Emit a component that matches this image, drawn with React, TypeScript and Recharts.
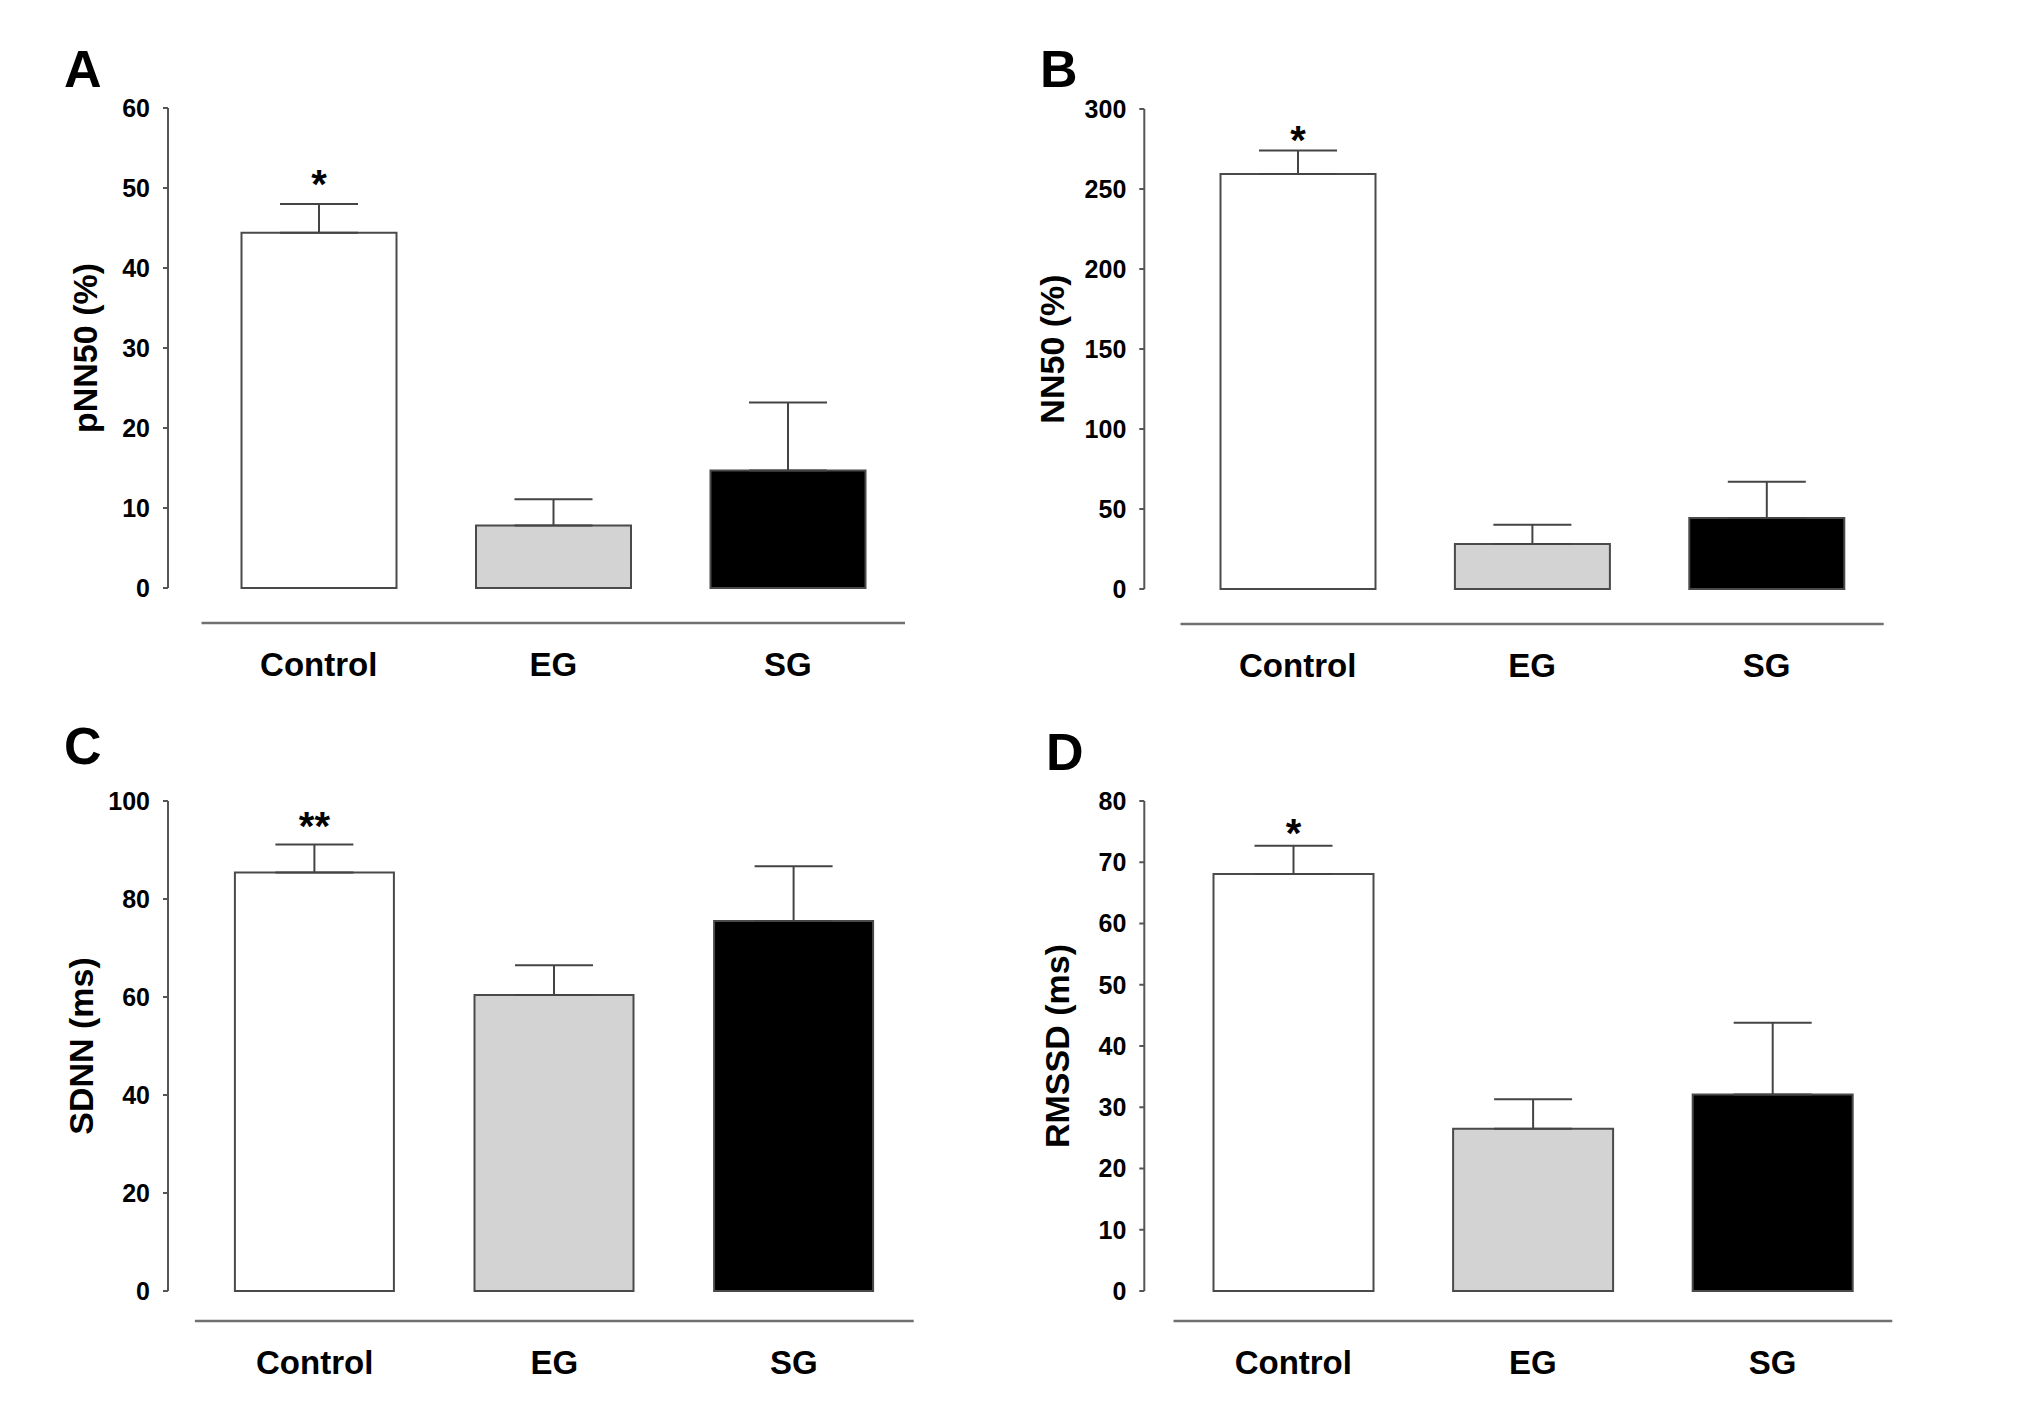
import React from 'react';
import { BarChart, Bar, XAxis, YAxis, ErrorBar, Cell, LabelList } from 'recharts';

const FONT = '"Liberation Sans", Arial, Helvetica, sans-serif';

const groups = ['Control', 'EG', 'SG'];
const groupFills = ['#ffffff', '#d3d3d3', '#000000'];

const pnn50Mean = [44.4, 7.8, 14.7];
const pnn50Sem = [3.6, 3.3, 8.5];
const pnn50Sig = ['*', '', ''];
const pnn50Ticks = [0, 10, 20, 30, 40, 50, 60];

const nn50Mean = [259.4, 28.2, 44.4];
const nn50Sem = [14.6, 11.9, 22.6];
const nn50Sig = ['*', '', ''];
const nn50Ticks = [0, 50, 100, 150, 200, 250, 300];

const sdnnMean = [85.4, 60.4, 75.5];
const sdnnSem = [5.7, 6.1, 11.2];
const sdnnSig = ['**', '', ''];
const sdnnTicks = [0, 20, 40, 60, 80, 100];

const rmssdMean = [68.1, 26.5, 32.1];
const rmssdSem = [4.6, 4.8, 11.7];
const rmssdSig = ['*', '', ''];
const rmssdTicks = [0, 10, 20, 30, 40, 50, 60, 70, 80];

const layoutA = { left: 0, top: 0, width: 1000, height: 700, mTop: 108, mBottom: 7, mLeft: 38, mRight: 95, axisW: 130, padW: 33.5, spacerH: 35, labelDx: -18.4, barSize: 155, letterX: 64, letterY: 50, starGap: 27 };
const layoutB = { left: 1000, top: 0, width: 1040, height: 700, mTop: 109, mBottom: 6, mLeft: 14.3, mRight: 156.3, axisW: 130, padW: 36.2, spacerH: 35, labelDx: -27.3, barSize: 155, letterX: 1040, letterY: 50, starGap: 18 };
const layoutC = { left: 0, top: 700, width: 1000, height: 710, mTop: 101, mBottom: 19, mLeft: 38, mRight: 86.3, axisW: 130, padW: 26.9, spacerH: 30, labelDx: -22.3, barSize: 159, letterX: 64, letterY: 727, starGap: 26 };
const layoutD = { left: 1000, top: 700, width: 1040, height: 710, mTop: 101, mBottom: 19, mLeft: 14.3, mRight: 147.7, axisW: 130, padW: 29.2, spacerH: 30, labelDx: -22.3, barSize: 160, letterX: 1046, letterY: 733, starGap: 20 };

type Layout = typeof layoutA;

function Panel(props: {
  means: number[];
  sems: number[];
  sig: string[];
  ticks: number[];
  title: string;
  letter: string;
  L: Layout;
}) {
  const { means, sems, sig, ticks, title, letter, L } = props;
  const data = groups.map((g, i) => ({ name: g, mean: means[i], err: [0, sems[i]], sig: sig[i] }));
  const maxTick = ticks[ticks.length - 1];

  const renderStar = (p: any) => {
    const { x, y, width, height, index } = p;
    const s = sig[index];
    if (!s) return null;
    const pxPer = Number(height) / means[index];
    const topY = Number(y) - sems[index] * pxPer;
    const cx = Number(x) + Number(width) / 2;
    return (
      <text
        x={cx}
        y={topY - L.starGap + 21}
        textAnchor="middle"
        fontSize={40}
        fontWeight="bold"
        fontFamily={FONT}
        fill="#000"
      >
        {s}
      </text>
    );
  };

  return (
    <>
      <div
        style={{
          position: 'absolute',
          left: L.letterX,
          top: L.letterY - 7,
          fontSize: 52,
          lineHeight: '52px',
          fontWeight: 'bold',
          fontFamily: FONT,
          color: '#000',
        }}
      >
        {letter}
      </div>
      <div style={{ position: 'absolute', left: L.left, top: L.top }}>
        <BarChart
          width={L.width}
          height={L.height}
          data={data}
          margin={{ top: L.mTop, right: L.mRight, bottom: L.mBottom, left: L.mLeft }}
        >
          <XAxis
            xAxisId="z_lab"
            dataKey="name"
            height={70}
            axisLine={{ stroke: '#707070', strokeWidth: 2.5 }}
            tickLine={false}
            tickSize={0}
            tickMargin={30}
            interval={0}
            tick={{ fontSize: 33, fontWeight: 'bold', fill: '#000', fontFamily: FONT }}
          />
          <XAxis xAxisId="a_sp" dataKey="name" height={L.spacerH} axisLine={false} tickLine={false} tick={false} />
          <YAxis
            yAxisId="z_main"
            width={L.axisW}
            domain={[0, maxTick]}
            ticks={ticks}
            interval={0}
            axisLine={{ stroke: '#555', strokeWidth: 2 }}
            tickLine={{ stroke: '#555', strokeWidth: 2 }}
            tickSize={5}
            tickMargin={13}
            tick={{ fontSize: 25, fontWeight: 'bold', fill: '#000', fontFamily: FONT }}
            label={{
              value: title,
              angle: -90,
              position: 'center',
              dx: L.labelDx,
              fontSize: 34,
              fontWeight: 'bold',
              fill: '#000',
              fontFamily: FONT,
            }}
          />
          <YAxis yAxisId="a_pad" width={L.padW} axisLine={false} tickLine={false} tick={false} />
          <Bar
            xAxisId="a_sp"
            yAxisId="z_main"
            dataKey="mean"
            barSize={L.barSize}
            stroke="#4a4a4a"
            strokeWidth={2}
            isAnimationActive={false}
          >
            {data.map((d, i) => (
              <Cell key={d.name} fill={groupFills[i]} />
            ))}
            <ErrorBar dataKey="err" width={39} stroke="#444" strokeWidth={2} direction="y" isAnimationActive={false} />
            <LabelList dataKey="sig" content={renderStar} />
          </Bar>
        </BarChart>
      </div>
    </>
  );
}

export default function App() {
  return (
    <div style={{ position: 'absolute', left: 0, top: 0, width: 2040, height: 1410, background: '#fff', overflow: 'hidden' }}>
      <Panel means={pnn50Mean} sems={pnn50Sem} sig={pnn50Sig} ticks={pnn50Ticks} title="pNN50 (%)" letter="A" L={layoutA} />
      <Panel means={nn50Mean} sems={nn50Sem} sig={nn50Sig} ticks={nn50Ticks} title="NN50 (%)" letter="B" L={layoutB} />
      <Panel means={sdnnMean} sems={sdnnSem} sig={sdnnSig} ticks={sdnnTicks} title="SDNN (ms)" letter="C" L={layoutC} />
      <Panel means={rmssdMean} sems={rmssdSem} sig={rmssdSig} ticks={rmssdTicks} title="RMSSD (ms)" letter="D" L={layoutD} />
    </div>
  );
}
